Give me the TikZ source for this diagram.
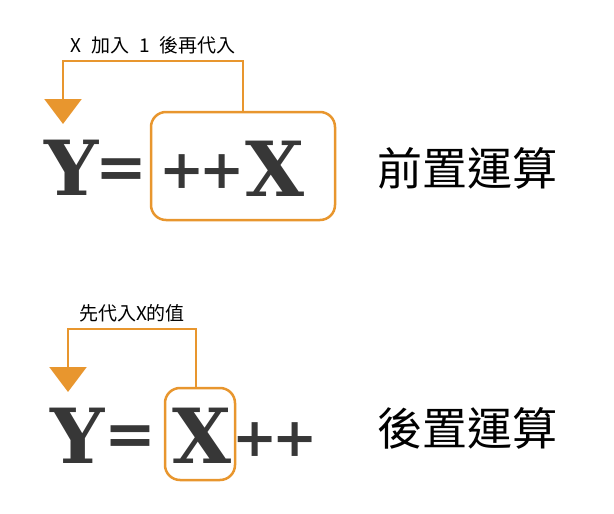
\documentclass[tikz,border=0pt]{standalone}
\usepackage{fontspec}
\setmainfont{DejaVu Serif}
\newfontfamily\cjk{Noto Sans CJK TC}[WordSpace=2.3]
\usetikzlibrary{arrows.meta}
\definecolor{flowcol}{RGB}{232,150,46}
\definecolor{inkcol}{RGB}{55,55,55}

\begin{document}
\begin{tikzpicture}[x=1pt, y=-1pt,
  bigchar/.style={inner sep=0pt, text=inkcol, font=\bfseries\fontsize{76}{76}\selectfont},
  opchar/.style={inner sep=0pt, text=inkcol, font=\bfseries\fontsize{62}{62}\selectfont},
  pluschar/.style={inner sep=0pt, text=inkcol, font=\bfseries\fontsize{54}{54}\selectfont},
  frame/.style={draw=flowcol, line width=2.5pt, rounded corners=15pt},
  flow/.style={draw=flowcol, line width=2.5pt, -{Triangle[width=37pt, length=25pt]}},
  note/.style={font=\cjk\fontsize{19}{19}\selectfont, inner sep=2pt},
  title/.style={font=\cjk\fontsize{45}{45}\selectfont, inner sep=0pt}]
  \useasboundingbox (0,0) rectangle (614,514);

  % prefix: Y = ++X
  \node[frame, minimum width=184pt, minimum height=108pt] (boxA) at (243,166) {};
  \node[bigchar] (yA) at (72,168) {Y};
  \node[opchar] (eqA) at (121,174) {=};
  \node[pluschar] (plusA1) at (182,172) {+};
  \node[pluschar] (plusA2) at (222,172) {+};
  \node[bigchar] (xA) at (275,169) {X};
  \coordinate (turnA) at (63,61);
  \coordinate (tipA) at (63,124);
  \draw[flow] (boxA.north) |- node[note, pos=0.75, above=4pt] {X 加入 1 後再代入} (turnA) -- (tipA);
  \node[title] (preA) at (467,168) {前置運算};

  % postfix: Y = X++
  \node[frame, minimum width=70pt, minimum height=92pt] (boxB) at (200,434) {};
  \node[bigchar] (yB) at (78,436) {Y};
  \node[opchar] (eqB) at (130,441) {=};
  \node[bigchar] (xB) at (202,436) {X};
  \node[pluschar] (plusB1) at (255,440) {+};
  \node[pluschar] (plusB2) at (295,440) {+};
  \coordinate (turnB) at (68,329);
  \coordinate (tipB) at (68,392);
  \draw[flow] ([xshift=-4pt]boxB.north) |- node[note, pos=0.75, above=4pt] {先代入X的值} (turnB) -- (tipB);
  \node[title] (postB) at (467,428) {後置運算};
\end{tikzpicture}
\end{document}
